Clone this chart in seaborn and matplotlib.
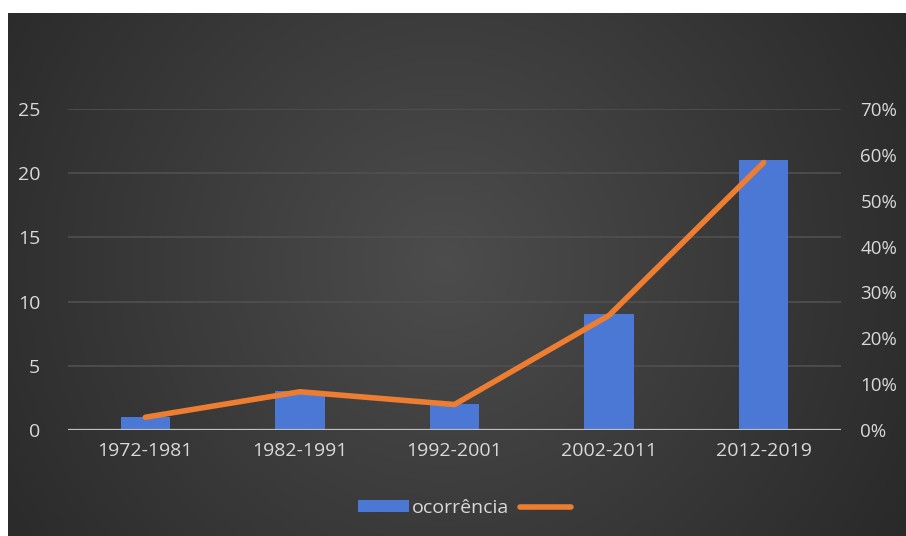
import numpy as np
import pandas as pd
import seaborn as sns
import matplotlib.pyplot as plt
from matplotlib.patches import Patch
from matplotlib.lines import Line2D

# data
periodos = ['1972-1981', '1982-1991', '1992-2001', '2002-2011', '2012-2019']
ocorrencia = [1, 3, 2, 9, 21]
percentual = np.array(ocorrencia) / sum(ocorrencia)

df = pd.DataFrame({'periodo': periodos, 'ocorrencia': ocorrencia,
                   'pos': range(len(periodos)), 'pct': percentual})

sns.set_theme(style='white')
plt.rcParams['font.family'] = ['Open Sans', 'DejaVu Sans']
txt = '#d9d9d9'
fs = 14

fig = plt.figure(figsize=(9.06, 5.36), dpi=100)
fig.patch.set_facecolor('white')

# dark radial background
bg = fig.add_axes([8 / 906, 0, 1 - 8 / 906, (536 - 13) / 536])
yy, xx = np.mgrid[0:200, 0:340]
cx, cy = 165, 95
r = np.sqrt(((xx - cx) / 220.0) ** 2 + ((yy - cy) / 220.0) ** 2)
g = np.clip(0.30 - 0.15 * r, 0.15, 0.30)
bg.imshow(np.dstack([g, g, g]), aspect='auto', interpolation='bilinear')
bg.axis('off')

ax = fig.add_axes([68 / 906, (536 - 430) / 536, (841 - 68) / 906, (430 - 109) / 536])
ax.patch.set_alpha(0)
sns.barplot(data=df, x='periodo', y='ocorrencia', color='#4a78d4', saturation=1,
            width=0.32, ax=ax, zorder=3, linewidth=0, edgecolor='none')
ax.set_ylim(0, 25)
ax.set_xlim(-0.5, 4.5)
ax.set_yticks([0, 5, 10, 15, 20, 25])
ax.yaxis.grid(True, color='#505050', lw=1.2)
ax.set_axisbelow(True)
for s in ax.spines.values():
    s.set_visible(False)
ax.axhline(0, color='#bfbfbf', lw=1.6, zorder=4)
ax.set_xlabel('')
ax.set_ylabel('')
ax.tick_params(axis='y', colors=txt, labelsize=fs, length=0, pad=20)
ax.tick_params(axis='x', colors=txt, labelsize=fs, length=0, pad=9)

ax2 = ax.twinx()
sns.lineplot(data=df, x='pos', y='pct', color='#ed7d31', lw=4, ax=ax2,
             solid_capstyle='round', zorder=5)
ax2.set_ylim(0, 0.7)
ax2.set_xlim(-0.5, 4.5)
ax2.set_yticks(np.arange(0, 0.71, 0.1))
ax2.set_yticklabels([f'{int(round(v * 100))}%' for v in np.arange(0, 0.71, 0.1)])
ax2.tick_params(axis='y', colors=txt, labelsize=13.5, length=0, pad=14)
ax2.set_ylabel('')
ax2.set_xlabel('')
for s in ax2.spines.values():
    s.set_visible(False)

handles = [Patch(facecolor='#4a78d4', edgecolor='none', linewidth=0),
           Line2D([0], [0], color='#ed7d31', lw=4, solid_capstyle='round')]
fig.legend(handles, ['ocorrência', ''], loc='center', bbox_to_anchor=(466 / 906, 1 - 508 / 536),
           ncol=2, frameon=False, labelcolor=txt, fontsize=fs, handlelength=2.6,
           handleheight=0.55, handletextpad=0.15, columnspacing=0.6)

fig.savefig('out.png', dpi=100)
